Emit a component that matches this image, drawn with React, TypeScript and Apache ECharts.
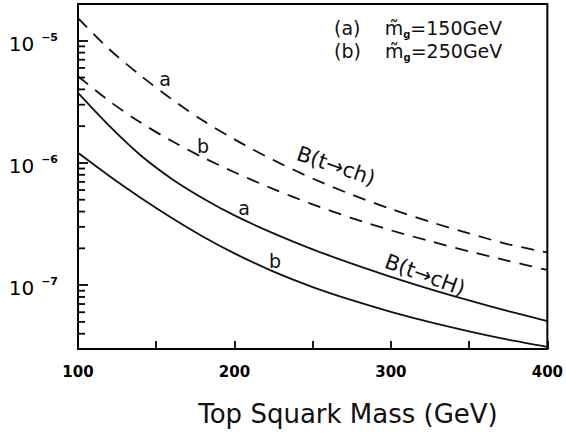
import React, { useEffect, useRef } from "react";
import * as echarts from "echarts";

// Top squark mass (GeV)
const masses = [100, 120, 140, 160, 180, 200, 225, 250, 275, 300, 325, 350, 375, 400];
// B(t -> ch), dashed, (a) m_g = 150 GeV and (b) m_g = 250 GeV
const dashedA = [1.53e-5, 8.53e-6, 5.19e-6, 3.32e-6, 2.22e-6, 1.56e-6, 1.054e-6, 7.46e-7, 5.5e-7, 4.2e-7, 3.3e-7, 2.65e-7, 2.16e-7, 1.85e-7];
const dashedB = [5.13e-6, 3.21e-6, 2.14e-6, 1.51e-6, 1.107e-6, 8.39e-7, 6.11e-7, 4.58e-7, 3.54e-7, 2.81e-7, 2.29e-7, 1.89e-7, 1.58e-7, 1.33e-7];
// B(t -> cH), solid
const solidA = [3.74e-6, 2.01e-6, 1.156e-6, 7.4e-7, 5.12e-7, 3.72e-7, 2.65e-7, 1.96e-7, 1.5e-7, 1.17e-7, 9.29e-8, 7.5e-8, 6.13e-8, 5.07e-8];
const solidB = [1.21e-6, 7.82e-7, 5.19e-7, 3.54e-7, 2.49e-7, 1.82e-7, 1.29e-7, 9.64e-8, 7.53e-8, 6.05e-8, 4.98e-8, 4.19e-8, 3.58e-8, 3.12e-8];
// minor ticks of the log axis
const yMinorTicks = [
  4e-8, 5e-8, 6e-8, 7e-8, 8e-8, 9e-8,
  2e-7, 3e-7, 4e-7, 5e-7, 6e-7, 7e-7, 8e-7, 9e-7,
  2e-6, 3e-6, 4e-6, 5e-6, 6e-6, 7e-6, 8e-6, 9e-6,
];
const yMin = 3e-8;
const yMax = 2e-5;
const xLabel = "Top Squark Mass (GeV)";
const legendLines = [
  ["(a)", "150GeV"],
  ["(b)", "250GeV"],
];

const FONT = "DejaVu Sans";
const INK = "#111";

const pairs = (ys: number[]) => masses.map((m, i) => [m, ys[i]]);

export default function App() {
  const ref = useRef<HTMLDivElement>(null);
  useEffect(() => {
    if (!ref.current) return;
    const chart = echarts.init(ref.current, undefined, { renderer: "svg" });
    const lineSeries = (name: string, ys: number[], dashed: boolean) => ({
      name,
      type: "line",
      data: pairs(ys),
      smooth: 0.3,
      showSymbol: false,
      symbol: "none",
      lineStyle: { color: INK, width: 1.8, type: dashed ? [13, 9] : "solid" },
      silent: true,
      z: 3,
    });
    const legendText = legendLines
      .map(([tag, val]) => `{t|${tag}    }{t|m\u0303}{g|g}{t|=${val}}`)
      .join("\n");
    chart.setOption({
      animation: false,
      grid: {
        left: 78,
        right: 15,
        top: 4,
        bottom: 91,
        show: true,
        borderColor: "#000",
        borderWidth: 2,
      },
      xAxis: {
        type: "value",
        min: 100,
        max: 400,
        interval: 50,
        axisLine: { show: true, onZero: false, lineStyle: { color: "#000", width: 2 } },
        axisTick: { show: true, inside: true, length: 8, lineStyle: { color: "#000", width: 1.8 } },
        splitLine: { show: false },
        axisLabel: {
          margin: 15,
          color: "#000",
          fontFamily: FONT,
          fontWeight: "bold",
          fontSize: 15,
          formatter: (v: number) => (v % 100 === 0 ? String(v) : ""),
        },
      },
      yAxis: {
        type: "log",
        logBase: 10,
        min: yMin,
        max: yMax,
        axisLine: { show: true, onZero: false, lineStyle: { color: "#000", width: 2 } },
        axisTick: { show: true, inside: true, length: 10, lineStyle: { color: "#000", width: 1.8 } },
        splitLine: { show: false },
        axisLabel: {
          showMinLabel: false,
          showMaxLabel: false,
          margin: 20,
          padding: [6, 0, 0, 0],
          formatter: (v: number) => {
            const e = Math.log10(v);
            if (Math.abs(e - Math.round(e)) > 1e-6) return "";
            return `{b|10}{s|\u2212${-Math.round(e)}}`;
          },
          rich: {
            b: { fontFamily: FONT, fontSize: 20, color: "#000", lineHeight: 24 },
            s: {
              fontFamily: FONT,
              fontSize: 11,
              fontWeight: "bold",
              color: "#000",
              lineHeight: 14,
              verticalAlign: "top",
              padding: [0, 0, 0, 7],
            },
          },
        },
      },
      series: [
        lineSeries("dashedA", dashedA, true),
        lineSeries("dashedB", dashedB, true),
        lineSeries("solidA", solidA, false),
        lineSeries("solidB", solidB, false),
        {
          type: "custom",
          silent: true,
          clip: false,
          data: yMinorTicks.map((v) => [100, v]),
          renderItem: (_p: any, api: any) => {
            const pt = api.coord([api.value(0), api.value(1)]);
            return {
              type: "rect",
              shape: { x: pt[0], y: pt[1] - 0.9, width: 7, height: 1.8 },
              style: { fill: "#000" },
            };
          },
          z: 4,
        },
      ],
      graphic: [
        {
          type: "text",
          x: 334,
          y: 16,
          style: {
            text: legendText,
            verticalAlign: "top",
            rich: {
              t: { fontFamily: FONT, fontSize: 19, fill: INK, lineHeight: 23 },
              g: { fontFamily: FONT, fontSize: 10, fontWeight: "bold", fill: INK, lineHeight: 10, verticalAlign: "bottom" },
            },
          },
        },
        { type: "text", x: 165, y: 79, style: { text: "a", font: `19px '${FONT}'`, fill: INK, align: "center", verticalAlign: "middle" } },
        { type: "text", x: 203, y: 146, style: { text: "b", font: `19px '${FONT}'`, fill: INK, align: "center", verticalAlign: "middle" } },
        { type: "text", x: 244, y: 208, style: { text: "a", font: `19px '${FONT}'`, fill: INK, align: "center", verticalAlign: "middle" } },
        { type: "text", x: 275, y: 261, style: { text: "b", font: `19px '${FONT}'`, fill: INK, align: "center", verticalAlign: "middle" } },
        {
          type: "text",
          x: 336,
          y: 166,
          rotation: -0.33,
          style: { text: "B(t\u2192ch)", font: `21px '${FONT}'`, fill: INK, align: "center", verticalAlign: "middle" },
        },
        {
          type: "text",
          x: 425,
          y: 275,
          rotation: -0.35,
          style: { text: "B(t\u2192cH)", font: `21px '${FONT}'`, fill: INK, align: "center", verticalAlign: "middle" },
        },
        {
          type: "text",
          x: 348,
          y: 414,
          style: { text: xLabel, font: `26px '${FONT}'`, fill: INK, align: "center", verticalAlign: "middle" },
        },
      ],
    });
    return () => chart.dispose();
  }, []);
  return (
    <div
      ref={ref}
      style={{ position: "fixed", left: 0, top: 0, width: 566, height: 440, background: "#fff" }}
    />
  );
}
